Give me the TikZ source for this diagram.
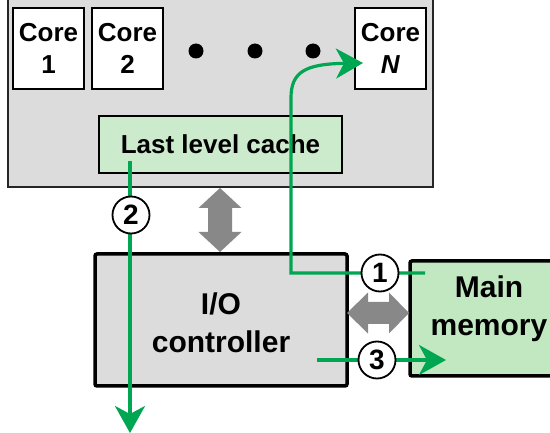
\documentclass[tikz,border=0pt]{standalone}
\usepackage{fontspec}
\setmainfont{Liberation Sans}
\definecolor{chipgrey}{RGB}{220,220,220}
\definecolor{cachegreen}{RGB}{204,234,204}
\definecolor{memgreen}{RGB}{194,232,194}
\definecolor{flowgreen}{RGB}{0,166,81}
\definecolor{busgrey}{RGB}{136,136,136}
\usetikzlibrary{arrows.meta, positioning, calc}

\begin{document}
\begin{tikzpicture}[x=1pt, y=-1pt,
  corebox/.style={draw=black, line width=1.2pt, fill=white, minimum width=71pt, minimum height=81pt, inner sep=0pt, align=center, font=\fontsize{26}{32}\selectfont\bfseries},
  bigbox/.style={draw=black, line width=3.5pt, rounded corners=2pt, inner sep=0pt},
  bigtext/.style={align=center, inner sep=0pt, font=\fontsize{30}{38}\selectfont\bfseries},
  flowline/.style={draw=flowgreen, line width=3.2pt, -{Stealth[length=27pt, width=30pt, inset=8pt]}},
  stepnum/.style={circle, draw=black, line width=1.8pt, fill=white, minimum size=37pt, inner sep=0pt, font=\fontsize{28}{28}\selectfont\bfseries},
  dot/.style={circle, fill=black, minimum size=15pt, inner sep=0pt}
]
  \useasboundingbox (0,0) rectangle (550,433);

  % Processor chip with cores
  \node[draw=black!85, line width=1.8pt, fill=chipgrey, minimum width=425pt, minimum height=207pt] (chip) at (220.5, 83.5) {};
  \node[corebox] (core1) at (48.5, 48.5) {Core\\1};
  \node[corebox] (core2) at (127.5, 48.5) {Core\\2};
  \node[corebox] (coreN) at (390.5, 48.5) {Core\\\textit{N}};
  \node[dot] (dot1) at (196, 51) {};
  \node[dot] (dot2) at (255, 51) {};
  \node[dot] (dot3) at (313, 51) {};

  % Last level cache
  \node[draw=black, line width=1.4pt, fill=cachegreen, minimum width=243pt, minimum height=57pt, font=\fontsize{26}{32}\selectfont\bfseries] (llc) at (220.5, 144.5) {Last level cache};

  % I/O controller and main memory
  \node[bigbox, fill=chipgrey, minimum width=252pt, minimum height=132pt] (io) at (221, 320) {};
  \node[bigtext] (iotext) at (221, 323) {I/O\\controller};
  \node[bigbox, fill=memgreen, minimum width=160pt, minimum height=115pt] (mem) at (490, 318.5) {};
  \node[bigtext] (memtext) at (489, 309) {Main\\memory};

  % Bus arrows
  \fill[busgrey] (220,188) -- (241.5,208) -- (232,208) -- (232,232) -- (241.5,232) -- (220,252)
    -- (198.5,232) -- (208,232) -- (208,208) -- (198.5,208) -- cycle;
  \fill[busgrey] (347,313) -- (368,292.5) -- (368,302) -- (389,302) -- (389,292.5) -- (409,313)
    -- (389,333.5) -- (389,324) -- (368,324) -- (368,333.5) -- cycle;

  % Data flow
  \coordinate (memin) at (425, 273);
  \coordinate (turn) at (291, 273);
  \coordinate (coretip) at (363, 63);
  \draw[flowline] (memin) -- (turn) -- (291, 98) .. controls (291, 72) and (305, 64) .. (coretip);
  \coordinate (llcout) at (130, 161);
  \coordinate (down) at (130, 433);
  \draw[flowline] (llcout) -- (down);
  \coordinate (ioout) at (317, 360);
  \coordinate (memtip) at (446, 360);
  \draw[flowline] (ioout) -- (memtip);

  \node[stepnum] (step1) at (380, 273) {1};
  \node[stepnum] (step2) at (131, 215) {2};
  \node[stepnum] (step3) at (377, 360) {3};
\end{tikzpicture}
\end{document}
